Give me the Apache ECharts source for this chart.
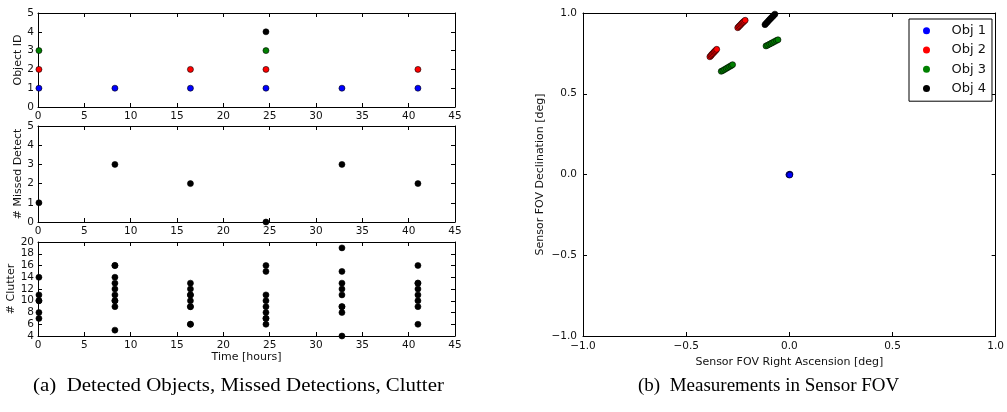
<!DOCTYPE html>
<html>
<head>
<meta charset="utf-8">
<script src="https://cdn.jsdelivr.net/npm/echarts@6/dist/echarts.min.js"></script>
<style>
html,body{margin:0;padding:0;background:#fff;}
#main{width:1007px;height:412px;}
</style>
</head>
<body>
<div id="main"></div>
<script>
// pass times [hours]
var passTimes = [0.1, 8.3, 16.45, 24.6, 32.8, 41.0];
// object ids detected on each pass
var detectedIds = [[1, 2, 3], [1], [1, 2], [1, 2, 3, 4], [1], [1, 2]];
// number of missed detections on each pass
var missedCounts = [1, 3, 2, 0, 3, 2];
// clutter counts seen on each pass
var clutterCounts = [
    [14, 11, 10, 10, 8, 7],
    [16, 16, 14, 13, 12, 11, 10, 10, 9, 5],
    [13, 12, 11, 11, 10, 9, 9, 6, 6],
    [16, 15, 11, 10, 9, 8, 7, 7, 6],
    [19, 15, 13, 12, 11, 9, 9, 8, 4],
    [16, 13, 13, 12, 11, 10, 9, 6]
];

// measurements in sensor FOV [ra, dec] (deg)
var obj1Meas = [[0, 0], [0.003, 0.002], [-0.002, -0.002], [0.002, -0.003]];
var obj2Meas = [
    [-0.385, 0.729], [-0.380, 0.736], [-0.376, 0.743], [-0.371, 0.749],
    [-0.366, 0.756], [-0.362, 0.762], [-0.357, 0.768], [-0.352, 0.775],
    [-0.250, 0.909], [-0.245, 0.916], [-0.240, 0.922], [-0.235, 0.929],
    [-0.230, 0.936], [-0.225, 0.942], [-0.220, 0.948], [-0.214, 0.955]
];
var obj3Meas = [
    [-0.330, 0.639], [-0.322, 0.644], [-0.314, 0.650], [-0.306, 0.656],
    [-0.298, 0.662], [-0.290, 0.668], [-0.282, 0.674], [-0.275, 0.680],
    [-0.113, 0.796], [-0.105, 0.801], [-0.096, 0.807], [-0.088, 0.812],
    [-0.080, 0.818], [-0.072, 0.823], [-0.063, 0.829], [-0.055, 0.834]
];
var obj4Meas = [
    [-0.118, 0.928], [-0.112, 0.936], [-0.106, 0.944], [-0.100, 0.953],
    [-0.094, 0.961], [-0.088, 0.969], [-0.082, 0.977], [-0.076, 0.985],
    [-0.070, 0.993], [-0.064, 1.001]
];

var objNames = ['Obj 1', 'Obj 2', 'Obj 3', 'Obj 4'];
var objColors = ['#0000ff', '#ff0000', '#008000', '#000000'];
var objMeas = [obj1Meas, obj2Meas, obj3Meas, obj4Meas];

var FONT = 'DejaVu Sans';
var TXT = '#111';

function fmt1(v) {
    return v.toFixed(1).replace('-', '\u2212');
}

// one axis of a panel; the mirrored one only carries ticks
function makeAxis(dim, grid, min, max, interval, pos, opts) {
    opts = opts || {};
    var mirror = (pos == 'top' || pos == 'right');
    return {
        type: 'value',
        gridIndex: grid,
        position: pos,
        min: min, max: max, interval: interval,
        name: opts.name || '',
        nameLocation: 'middle',
        nameGap: opts.nameGap || 15,
        nameTextStyle: {fontFamily: FONT, fontSize: 11, color: TXT},
        axisLine: {show: true, onZero: false, lineStyle: {color: '#000', width: 1}},
        axisTick: {show: true, inside: true, length: 4, lineStyle: {color: '#000'}},
        axisLabel: {
            show: !mirror,
            margin: opts.margin || 4,
            fontFamily: FONT, fontSize: 10.5, color: TXT,
            formatter: opts.formatter
        },
        splitLine: {show: false}
    };
}

var grids = [
    {left: 38, top: 13, width: 417, height: 94},
    {left: 38, top: 126, width: 417, height: 96},
    {left: 38, top: 242, width: 417, height: 94},
    {left: 583, top: 13, width: 417, height: 323}
];

var xAxes = [
    makeAxis('x', 0, 0, 45, 5, 'bottom'), makeAxis('x', 0, 0, 45, 5, 'top'),
    makeAxis('x', 1, 0, 45, 5, 'bottom'), makeAxis('x', 1, 0, 45, 5, 'top'),
    makeAxis('x', 2, 0, 45, 5, 'bottom', {name: 'Time [hours]', nameGap: 16}), makeAxis('x', 2, 0, 45, 5, 'top'),
    makeAxis('x', 3, -1, 1, 0.5, 'bottom', {name: 'Sensor FOV Right Ascension [deg]', nameGap: 14, formatter: fmt1, margin: 5}),
    makeAxis('x', 3, -1, 1, 0.5, 'top')
];
var yAxes = [
    makeAxis('y', 0, 0, 5, 1, 'left', {name: 'Object ID', nameGap: 14}), makeAxis('y', 0, 0, 5, 1, 'right'),
    makeAxis('y', 1, 0, 5, 1, 'left', {name: '# Missed Detect', nameGap: 13}), makeAxis('y', 1, 0, 5, 1, 'right'),
    makeAxis('y', 2, 4, 20, 2, 'left', {name: '# Clutter', nameGap: 21}), makeAxis('y', 2, 4, 20, 2, 'right'),
    makeAxis('y', 3, -1, 1, 0.5, 'left', {name: 'Sensor FOV Declination [deg]', nameGap: 37, formatter: fmt1, margin: 6}),
    makeAxis('y', 3, -1, 1, 0.5, 'right')
];

var series = [];
var dotStyle = function (c) {
    return {color: c, borderColor: '#000', borderWidth: 0.6, opacity: 1};
};

// panel 1: detected object ids
for (let k = 1; k <= 4; k++) {
    let pts = [];
    detectedIds.forEach(function (ids, i) {
        if (ids.indexOf(k) >= 0) pts.push([passTimes[i], k]);
    });
    series.push({
        type: 'scatter', name: 'id' + k, xAxisIndex: 0, yAxisIndex: 0,
        symbolSize: 6, itemStyle: dotStyle(objColors[k - 1]), data: pts
    });
}

// panel 2: missed detections
series.push({
    type: 'scatter', name: 'missed', xAxisIndex: 2, yAxisIndex: 2,
    symbolSize: 6, itemStyle: dotStyle('#000'),
    data: missedCounts.map(function (m, i) { return [passTimes[i], m]; })
});

// panel 3: clutter
var clutterPts = [];
clutterCounts.forEach(function (list, i) {
    list.forEach(function (c) { clutterPts.push([passTimes[i], c]); });
});
series.push({
    type: 'scatter', name: 'clutter', xAxisIndex: 4, yAxisIndex: 4,
    symbolSize: 6, itemStyle: dotStyle('#000'), data: clutterPts
});

// panel b: measurements
objMeas.forEach(function (m, i) {
    series.push({
        type: 'scatter', name: objNames[i], xAxisIndex: 6, yAxisIndex: 6,
        symbolSize: 6, itemStyle: dotStyle(objColors[i]), data: m
    });
});

var chart = echarts.init(document.getElementById('main'), null, {renderer: 'canvas'});
chart.setOption({
    animation: false,
    backgroundColor: '#fff',
    grid: grids,
    xAxis: xAxes,
    yAxis: yAxes,
    series: series,
    legend: {
        data: objNames.map(function (n, i) { return {name: n, itemStyle: {color: objColors[i], borderWidth: 0}}; }),
        orient: 'vertical',
        left: 909, top: 19,
        padding: [2, 6, 3, 14],
        itemWidth: 36, itemHeight: 7, itemGap: 0,
        icon: 'circle',
        borderColor: '#000', borderWidth: 1, backgroundColor: '#fff',
        selectedMode: false,
        textStyle: {fontFamily: FONT, fontSize: 13, color: TXT, lineHeight: 19.3, padding: [0, 0, 0, 2]}
    },
    graphic: [
        {type: 'text', x: 33, y: 377, scaleX: 1.1,
         style: {text: '(a)  Detected Objects, Missed Detections, Clutter', font: '19px "Liberation Serif"', fill: '#000'}},
        {type: 'text', x: 638, y: 377,
         style: {text: '(b)  Measurements in Sensor FOV', font: '19px "Liberation Serif"', fill: '#000'}}
    ]
});
</script>
</body>
</html>
